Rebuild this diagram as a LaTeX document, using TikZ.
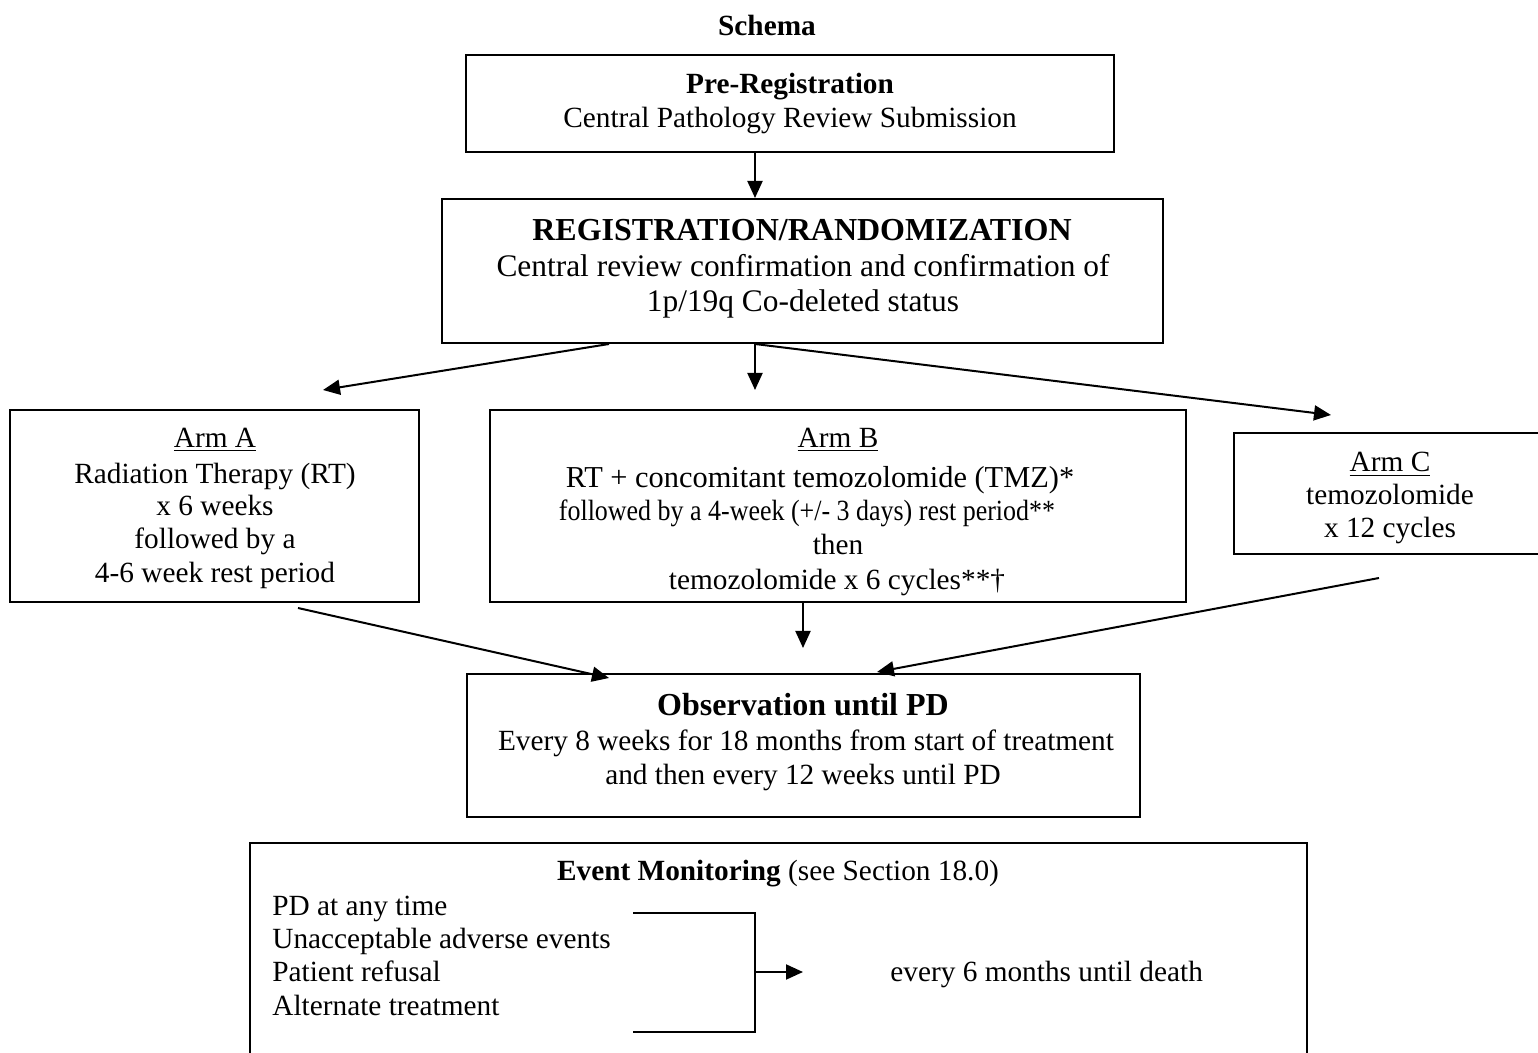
\documentclass[tikz,border=0pt]{standalone}
\usepackage{fontspec}
\usepackage{graphicx}
\setmainfont{Liberation Serif}
\usetikzlibrary{arrows.meta,fit}
\newcommand\szN{\fontsize{14.65}{16.5}\selectfont}
\newcommand\szR{\fontsize{15.7}{18}\selectfont}
\newcommand\szB{\fontsize{15.2}{18}\selectfont}
\newcommand\szT{\fontsize{16}{18}\selectfont\bfseries}
\begin{document}
\begin{tikzpicture}[x=0.5pt,y=-0.5pt,
  box/.style={draw, line width=1pt, inner sep=0pt},
  openbox/.style={draw=none, inner sep=0pt},
  txt/.style={anchor=base, inner sep=0pt, font=\szN},
  ltxt/.style={anchor=base west, inner sep=0pt, font=\szN},
  arr/.style={line width=1pt, -{Triangle[length=8.5pt,width=7.5pt]}},
  ln/.style={line width=1pt}]
\useasboundingbox (0,0) rectangle (1538,1053);
\fill[white] (0,0) rectangle (1538,1053);

% title
\node[txt, font=\szN\bfseries] (schema) at (767,36) {Schema};

% pre-registration
\node[box, fit={(466,55) (1114,152)}] (pre) {};
\node[txt, font=\szN\bfseries] (preT) at (790,94) {Pre-Registration};
\node[txt] (preS) at (790,128) {Central Pathology Review Submission};

% registration
\node[box, fit={(442,199) (1163,343)}] (reg) {};
\node[txt, font=\szT] (regT) at (802,241) {REGISTRATION/RANDOMIZATION};
\node[txt, font=\szR] (regS1) at (803,277) {Central review confirmation and confirmation of};
\node[txt, font=\szR] (regS2) at (803,312) {1p/19q Co-deleted status};

% Arm A
\node[box, fit={(10,410) (419,602)}] (armA) {};
\node[txt] (aT) at (215,448) {\underline{Arm A}};
\node[txt] (a1) at (215,484) {Radiation Therapy (RT)};
\node[txt] (a2) at (215,516) {x 6 weeks};
\node[txt] (a3) at (215,549) {followed by a};
\node[txt] (a4) at (215,583) {4-6 week rest period};

% Arm B
\node[box, fit={(490,410) (1186,602)}] (armB) {};
\node[txt] (bT) at (838,448) {\underline{Arm B}};
\node[txt, font=\szB] (b1) at (820,488) {RT + concomitant temozolomide (TMZ)*};
\node[txt] (b2) at (807,521) {\scalebox{0.886}[1]{followed by a 4-week (+/- 3 days) rest period**}};
\node[txt] (b3) at (838,555) {then};
\node[txt] (b4) at (837,590) {temozolomide x 6 cycles**\textdagger};

% Arm C (right edge outside the picture)
\node[openbox, fit={(1234,433) (1538,554)}] (armC) {};
\draw[ln] (armC.north east) -- (armC.north west) -- (armC.south west) -- (armC.south east);
\node[txt] (cT) at (1390,472) {\underline{Arm C}};
\node[txt] (c1) at (1390,505) {temozolomide};
\node[txt] (c2) at (1390,538) {x 12 cycles};

% Observation
\node[box, fit={(467,674) (1140,817)}] (obs) {};
\node[txt, font=\szT] (oT) at (803,715) {Observation until PD};
\node[txt] (o1) at (806,750) {Every 8 weeks for 18 months from start of treatment};
\node[txt] (o2) at (803,784) {and then every 12 weeks until PD};

% Event monitoring (bottom edge outside the picture)
\node[openbox, fit={(250,843) (1307,1053)}] (ev) {};
\draw[ln] (ev.south west) -- (ev.north west) -- (ev.north east) -- (ev.south east);
\node[txt] (evT) at (778,880) {\textbf{Event Monitoring} (see Section 18.0)};
\node[ltxt] (e1) at (272,915) {PD at any time};
\node[ltxt] (e2) at (272,948) {Unacceptable adverse events};
\node[ltxt] (e3) at (272,981) {Patient refusal};
\node[ltxt] (e4) at (272,1015) {Alternate treatment};
\node[ltxt] (e5) at (890,981) {every 6 months until death};

% helper coordinates
\coordinate (xa) at (755,0);
\coordinate (xb) at (609,0);
\coordinate (xc) at (803,0);
\coordinate (tA) at (323,390);
\coordinate (tB) at (755,390);
\coordinate (tC) at (1331,415);
\coordinate (sA) at (298,608);
\coordinate (tOA) at (609,678);
\coordinate (tOB) at (803,648);
\coordinate (sC) at (1379,578);
\coordinate (tOC) at (877,672);
\coordinate (bt) at (633,913);
\coordinate (bm) at (755,972);
\coordinate (bb) at (633,1032);
\coordinate (bx) at (803,972);

% connectors
\draw[arr] (pre.south -| xa) -- (reg.north -| xa);
\draw[arr] (reg.south -| xb) -- (tA);
\draw[arr] (reg.south -| xa) -- (tB);
\draw[arr] (reg.south -| xa) -- (tC);
\draw[arr] (sA) -- (tOA);
\draw[arr] (armB.south -| xc) -- (tOB);
\draw[arr] (sC) -- (tOC);
\draw[ln] (bt) -| (bb -| bm) -- (bb);
\draw[arr] (bm) -- (bx);
\end{tikzpicture}
\end{document}
